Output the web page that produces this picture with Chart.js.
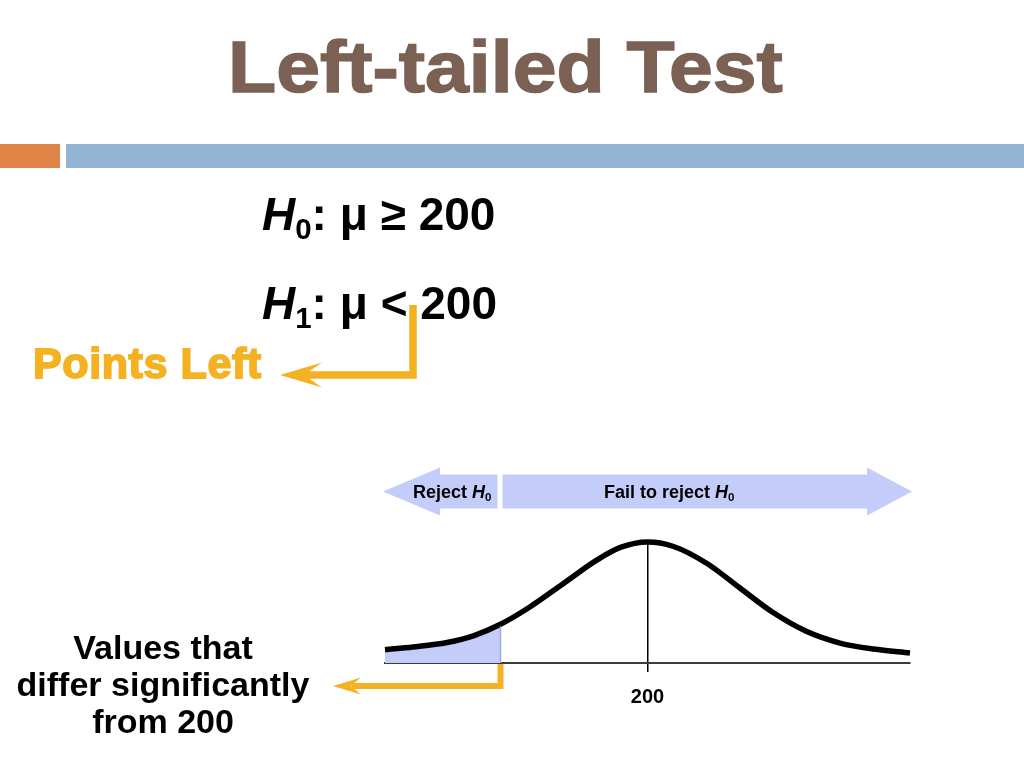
<!DOCTYPE html>
<html>
<head>
<meta charset="utf-8">
<title>Left-tailed Test</title>
<script src="https://cdn.jsdelivr.net/npm/chart.js@4.4.1/dist/chart.umd.min.js"></script>
<style>
  body {
    margin: 0;
    width: 1024px;
    height: 768px;
    overflow: hidden;
    background: #fff;
    position: relative;
    font-family: "Liberation Sans", Arial, sans-serif;
  }
  #wrap { position: absolute; left: 0; top: 0; width: 1024px; height: 768px; }
  .txt { position: absolute; white-space: nowrap; font-weight: bold; line-height: 1; z-index: 2; }
  .bar { position: absolute; top: 144px; height: 24px; }
  sub { font-size: 0.64em; vertical-align: -0.3em; line-height: 0; }
  #title {
    left: 228px; top: 31px; font-size: 72px; color: #7b6054;
    -webkit-text-stroke: 1.4px #7b6054;
    transform: scaleX(1.095); transform-origin: 0 0;
  }
  .hyp { left: 262px; font-size: 46px; color: #000; }
  #pointsLeft {
    left: 33px; top: 342px; font-size: 43px; color: #f4b223;
    letter-spacing: 0.6px; -webkit-text-stroke: 1.8px #f4b223;
  }
  #values { left: 0; width: 326px; top: 629px; font-size: 34px; line-height: 37px; text-align: center; color: #000; }
  .region { top: 483px; font-size: 18px; color: #000; }
</style>
</head>
<body>
<div class="bar" style="left:0;width:60px;background:#e08448;"></div>
<div class="bar" style="left:66px;width:958px;background:#93b4d2;"></div>
<div id="title" class="txt">Left-tailed Test</div>
<div class="txt hyp" style="top:191px;"><i>H</i><sub>0</sub>: μ ≥ 200</div>
<div class="txt hyp" style="top:280px;"><i>H</i><sub>1</sub>: μ &lt; 200</div>
<div id="pointsLeft" class="txt">Points Left</div>
<div id="values" class="txt">Values that<br>differ significantly<br>from 200</div>
<div class="txt region" style="left:413px;">Reject <i>H</i><sub>0</sub></div>
<div class="txt region" style="left:604px;">Fail to reject <i>H</i><sub>0</sub></div>
<div id="wrap"><canvas id="curveChart"></canvas></div>

<script>
// curve, x in standard deviations from the mean
const zValues = [-3, -2.68, -2.29, -1.99, -1.68, -1.34, -0.96, -0.58, -0.31, 0, 0.29, 0.68, 1.06, 1.44, 1.82, 2.2, 2.58, 3];
const curveHeights = [0.044, 0.053, 0.068, 0.09, 0.128, 0.186, 0.263, 0.34, 0.382, 0.4, 0.386, 0.329, 0.247, 0.166, 0.104, 0.066, 0.046, 0.033];
const criticalZ = -1.68;
const tickValues = [0];
const tickLabels = ["200"];

const curvePoints = zValues.map((z, i) => ({ x: z, y: curveHeights[i] }));
const shadePoints = curvePoints.filter((p) => p.x <= criticalZ);

const yellow = "#f4b223";
const regionBlue = "#c4cdfa";

function arrowHead(ctx, tipX, tipY, back, half, notch) {
  ctx.beginPath();
  ctx.moveTo(tipX, tipY);
  ctx.lineTo(tipX + back, tipY - half);
  ctx.lineTo(tipX + notch, tipY);
  ctx.lineTo(tipX + back, tipY + half);
  ctx.closePath();
  ctx.fill();
}

const decorPlugin = {
  id: "decor",
  afterDraw(chart) {
    const { ctx } = chart;
    const x = chart.scales.x;
    const y = chart.scales.y;
    const left = x.getPixelForValue(x.min);
    const right = x.getPixelForValue(x.max);
    const cut = x.getPixelForValue(criticalZ);
    const base = y.getPixelForValue(0);
    const cutTop = y.getPixelForValue(shadePoints[shadePoints.length - 1].y);

    ctx.save();

    // edge of the rejection region
    ctx.strokeStyle = "#9aabdc";
    ctx.lineWidth = 1.5;
    ctx.beginPath();
    ctx.moveTo(cut, base);
    ctx.lineTo(cut, cutTop + 2);
    ctx.stroke();

    // region arrows above the curve
    const mid = 491.5;
    const body = 17;
    const head = 24;
    ctx.fillStyle = regionBlue;
    ctx.beginPath();
    ctx.moveTo(left - 2, mid);
    ctx.lineTo(left + 55, mid - head);
    ctx.lineTo(left + 55, mid - body);
    ctx.lineTo(cut - 3, mid - body);
    ctx.lineTo(cut - 3, mid + body);
    ctx.lineTo(left + 55, mid + body);
    ctx.lineTo(left + 55, mid + head);
    ctx.closePath();
    ctx.fill();

    ctx.beginPath();
    ctx.moveTo(cut + 2, mid - body);
    ctx.lineTo(right - 43, mid - body);
    ctx.lineTo(right - 43, mid - head);
    ctx.lineTo(right + 2, mid);
    ctx.lineTo(right - 43, mid + head);
    ctx.lineTo(right - 43, mid + body);
    ctx.lineTo(cut + 2, mid + body);
    ctx.closePath();
    ctx.fill();

    // yellow pointers
    ctx.strokeStyle = yellow;
    ctx.fillStyle = yellow;
    ctx.lineJoin = "miter";

    ctx.lineWidth = 6;
    ctx.beginPath();
    ctx.moveTo(cut, base + 1);
    ctx.lineTo(cut, 686);
    ctx.lineTo(352, 686);
    ctx.stroke();
    arrowHead(ctx, 333, 686, 28, 8.5, 18);

    ctx.lineWidth = 7.5;
    ctx.beginPath();
    ctx.moveTo(413, 305);
    ctx.lineTo(413, 375);
    ctx.lineTo(302, 375);
    ctx.stroke();
    arrowHead(ctx, 280, 375, 42, 12.5, 24);

    ctx.restore();
  },
};

new Chart(document.getElementById("curveChart"), {
  type: "line",
  data: {
    datasets: [
      {
        data: curvePoints,
        borderColor: "#000",
        borderWidth: 5.5,
        pointRadius: 0,
        cubicInterpolationMode: "monotone",
        fill: false,
        clip: false,
      },
      {
        data: shadePoints,
        borderColor: "transparent",
        borderWidth: 0,
        backgroundColor: regionBlue,
        pointRadius: 0,
        cubicInterpolationMode: "monotone",
        fill: "origin",
      },
    ],
  },
  options: {
    responsive: true,
    maintainAspectRatio: false,
    animation: false,
    layout: { padding: { left: 385, right: 114, top: 542, bottom: 48 } },
    plugins: {
      legend: { display: false },
      tooltip: { enabled: false },
    },
    scales: {
      x: {
        type: "linear",
        min: -3,
        max: 3,
        afterBuildTicks: (scale) => {
          scale.ticks = tickValues.map((v) => ({ value: v }));
        },
        afterFit: (scale) => {
          scale.height = 57;
        },
        ticks: {
          callback: (value) => tickLabels[tickValues.indexOf(value)],
          color: "#000",
          padding: 13,
          maxRotation: 0,
          font: { family: "'Liberation Sans', Arial, sans-serif", size: 20, weight: "bold" },
        },
        grid: { color: "#000", lineWidth: 1.5, tickLength: 9 },
        border: { color: "#3c3c3c", width: 2 },
      },
      y: { display: false, min: 0, max: 0.4 },
    },
  },
  plugins: [decorPlugin],
});
</script>
</body>
</html>
